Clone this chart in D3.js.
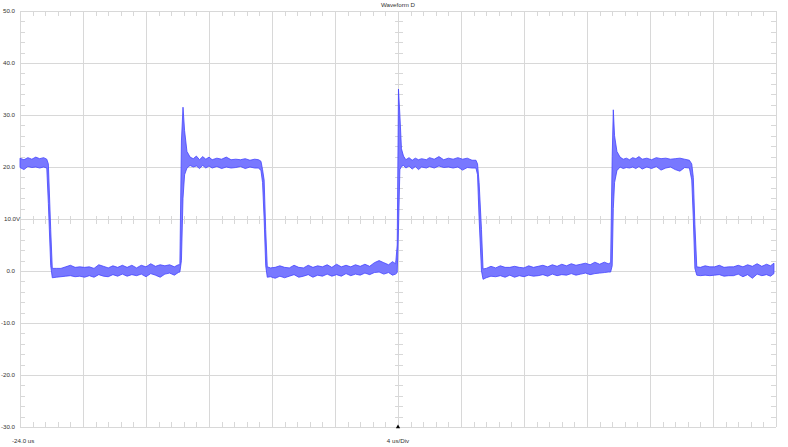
<!DOCTYPE html>
<html>
<head>
<meta charset="utf-8">
<script src="https://cdn.jsdelivr.net/npm/d3@7"></script>
<style>
  body { margin: 0; background: #fff; }
  text { font-family: "Liberation Sans", Arial, sans-serif; fill: #333; }
</style>
</head>
<body>
<div id="chart"></div>
<script>
// ---- data (time in us, envelope max / min in V) ----
const title = "Waveform D";
const yTicks = [-30, -20, -10, 0, 10, 20, 30, 40, 50];
const yTickLabels = ["-30.0", "-20.0", "-10.0", "0.0", "10.0V", "20.0", "30.0", "40.0", "50.0"];
const xTicks = [-24, -20, -16, -12, -8, -4, 0, 4, 8, 12, 16, 20, 24];
const startLabel = "-24.0 us";
const divLabel = "4 us/Div";

// [time, upper, lower]
const envelope = [
  [-24.0, 21.7, 19.9], [-23.75, 21.4, 19.5], [-23.5, 21.8, 20.1], [-23.25, 21.5, 19.9],
  [-23.0, 21.9, 20.0], [-22.75, 21.6, 19.8], [-22.5, 21.8, 20.0], [-22.3, 21.5, 19.8],
  [-22.2, 20.6, 13.0], [-22.05, 8.0, 1.0], [-21.95, 0.5, -1.3],
  [-21.7, 0.5, -1.2], [-21.4, 0.5, -1.1], [-21.1, 0.8, -1.0], [-20.8, 1.1, -0.9],
  [-20.5, 0.7, -1.1], [-20.2, 0.8, -1.0], [-19.9, 0.7, -1.2], [-19.6, 0.8, -0.9],
  [-19.3, 0.5, -1.2], [-19.0, 1.2, -0.7], [-18.7, 0.9, -1.0], [-18.4, 0.6, -1.1],
  [-18.1, 1.0, -0.7], [-17.8, 0.7, -1.0], [-17.5, 1.1, -0.6], [-17.2, 0.7, -1.0],
  [-16.9, 1.1, -0.7], [-16.6, 0.6, -0.9], [-16.3, 1.1, -0.6], [-16.0, 0.8, -1.1],
  [-15.7, 1.4, -0.5], [-15.4, 0.9, -0.8], [-15.1, 1.2, -1.2], [-14.8, 1.0, -0.6],
  [-14.5, 1.2, -0.4], [-14.2, 0.8, -0.8], [-13.95, 1.2, -0.3], [-13.85, 1.2, -0.2],
  [-13.75, 25.0, 2.0], [-13.65, 31.5, 14.0], [-13.55, 27.0, 18.5], [-13.4, 23.0, 19.8],
  [-13.2, 21.9, 20.3],
  [-13.0, 21.6, 20.0], [-12.8, 22.1, 20.2], [-12.6, 21.4, 19.7], [-12.4, 22.0, 20.3],
  [-12.2, 21.5, 19.8], [-12.0, 21.9, 20.2], [-11.8, 21.4, 19.8], [-11.5, 21.7, 20.1],
  [-11.2, 21.5, 19.7], [-10.9, 21.9, 20.0], [-10.6, 21.4, 19.8], [-10.3, 21.5, 19.9],
  [-10.0, 21.4, 20.1], [-9.7, 21.6, 19.7], [-9.4, 21.3, 20.0], [-9.1, 21.5, 19.8],
  [-8.85, 21.4, 19.8], [-8.7, 21.1, 19.3],
  [-8.6, 19.5, 17.0], [-8.5, 17.5, 10.0], [-8.4, 8.0, 1.0], [-8.3, 0.8, -1.2],
  [-8.1, 0.6, -1.1], [-7.8, 0.7, -1.4], [-7.5, 1.0, -1.0], [-7.2, 0.7, -1.3],
  [-6.9, 0.6, -1.0], [-6.6, 1.1, -0.7], [-6.3, 0.7, -1.2], [-6.0, 0.6, -1.0],
  [-5.7, 1.1, -0.7], [-5.4, 0.7, -1.2], [-5.1, 1.0, -0.8], [-4.8, 0.8, -1.0],
  [-4.5, 1.2, -0.6], [-4.2, 0.7, -1.0], [-3.9, 1.3, -0.7], [-3.6, 0.8, -1.0],
  [-3.3, 1.1, -0.5], [-3.0, 0.8, -0.9], [-2.7, 1.2, -0.6], [-2.4, 0.9, -0.8],
  [-2.1, 1.3, -0.4], [-1.8, 0.9, -0.7], [-1.5, 1.6, -0.3], [-1.2, 2.0, -0.2],
  [-0.9, 1.6, -0.6], [-0.6, 1.2, -0.3], [-0.35, 1.8, -0.8], [-0.15, 1.4, -0.6],
  [-0.05, 5.0, -0.3], [0.03, 35.0, 8.0], [0.12, 30.0, 19.5], [0.22, 23.5, 20.1],
  [0.35, 22.1, 20.3],
  [0.5, 21.4, 19.8], [0.7, 21.8, 20.2], [0.9, 21.3, 19.6], [1.1, 21.7, 20.1],
  [1.3, 21.4, 19.5], [1.5, 21.6, 20.0], [1.8, 21.4, 19.8], [2.0, 21.8, 20.1],
  [2.3, 21.5, 19.8], [2.6, 22.0, 20.2], [2.9, 21.4, 19.9], [3.2, 21.7, 20.0],
  [3.5, 21.5, 19.8], [3.8, 21.8, 20.0], [4.1, 21.5, 19.4], [4.4, 21.7, 19.9],
  [4.7, 21.3, 19.8], [4.95, 21.3, 19.8],
  [5.05, 20.6, 18.5], [5.15, 17.0, 10.0], [5.3, 8.0, 0.0], [5.4, 0.4, -1.6],
  [5.6, 0.5, -1.3], [5.9, 0.9, -1.0], [6.2, 0.6, -1.1], [6.5, 1.0, -0.9],
  [6.8, 0.7, -1.2], [7.1, 0.7, -0.8], [7.4, 0.9, -1.2], [7.7, 0.7, -0.9],
  [8.0, 0.6, -1.1], [8.3, 1.0, -0.8], [8.6, 0.7, -1.0], [8.9, 0.9, -0.9],
  [9.2, 1.1, -0.7], [9.5, 0.8, -1.0], [9.8, 1.2, -0.6], [10.1, 0.9, -0.9],
  [10.4, 1.3, -0.7], [10.7, 1.0, -0.8], [11.0, 1.4, -0.5], [11.3, 1.1, -0.8],
  [11.6, 1.3, -0.6], [11.9, 1.5, -0.4], [12.2, 1.2, -0.7], [12.5, 1.7, -0.5],
  [12.8, 1.3, -0.4], [13.1, 1.7, -0.3], [13.35, 1.4, -0.2], [13.5, 1.6, -0.2],
  [13.6, 22.0, 1.0], [13.67, 31.0, 12.0], [13.75, 26.0, 17.0], [13.9, 23.0, 19.3],
  [14.1, 21.9, 20.0],
  [14.3, 21.5, 19.7], [14.5, 21.7, 19.9], [14.7, 21.4, 19.8], [14.9, 21.8, 20.0],
  [15.1, 21.6, 19.7], [15.3, 22.0, 20.1], [15.5, 21.5, 19.6], [15.8, 21.7, 20.0],
  [16.1, 21.4, 19.7], [16.4, 21.8, 20.1], [16.7, 21.6, 19.4], [17.0, 21.7, 19.8],
  [17.3, 21.5, 20.0], [17.6, 21.6, 19.5], [17.9, 21.7, 19.2], [18.2, 21.5, 19.9],
  [18.5, 21.3, 19.8],
  [18.65, 20.6, 17.5], [18.75, 18.0, 10.0], [18.85, 9.0, 0.5], [18.97, 0.8, -0.8],
  [19.2, 0.7, -0.9], [19.5, 1.0, -0.8], [19.8, 0.8, -0.9], [20.1, 0.8, -0.8],
  [20.4, 1.1, -0.7], [20.7, 0.7, -1.0], [21.0, 0.8, -0.9], [21.3, 0.8, -0.9],
  [21.6, 1.1, -0.6], [21.9, 0.8, -1.1], [22.2, 1.2, -0.7], [22.5, 0.9, -1.4],
  [22.8, 1.4, -0.6], [23.1, 0.9, -0.9], [23.4, 1.3, -0.7], [23.65, 1.0, -1.0],
  [23.87, 1.5, -0.5]
];

(function() {
  // ---- layout ----
  const W = 788, H = 447;
  const pLeft = 20, pRight = 776, pTop = 11, pBottom = 427;

  const svg = d3.select("#chart").append("svg")
    .attr("width", W).attr("height", H);

  const x = d3.scaleLinear().domain([-24, 24]).range([pLeft, pRight]);
  const y = d3.scaleLinear().domain([-30, 50]).range([pBottom, pTop]);

  const grid = svg.append("g")
    .attr("stroke", "#d8d8d8")
    .attr("stroke-width", 1)
    .attr("shape-rendering", "crispEdges");

  const px = d => Math.round(x(d)) + 0.5, py = d => Math.round(y(d)) + 0.5;

  // major grid
  grid.selectAll(".vg").data(xTicks).enter().append("line")
    .attr("x1", px).attr("x2", px)
    .attr("y1", pTop).attr("y2", pBottom);
  grid.selectAll(".hg").data(yTicks).enter().append("line")
    .attr("y1", py).attr("y2", py)
    .attr("x1", pLeft).attr("x2", pRight);

  // minor ticks, 5 per division
  const xMinor = d3.range(-24, 24.001, 0.8).filter(v => Math.abs(v / 4 - Math.round(v / 4)) > 0.01);
  const yMinor = d3.range(-30, 50.001, 2).filter(v => v % 10 !== 0);
  const xc = 0, yc = 10;

  function tickLines(data, fn) {
    grid.selectAll(null).data(data).enter().append("line").each(function(d) {
      const c = fn(d);
      d3.select(this).attr("x1", c[0]).attr("y1", c[1]).attr("x2", c[2]).attr("y2", c[3]);
    });
  }
  tickLines(xMinor, d => [px(d), pTop, px(d), pTop + 5]);
  tickLines(xMinor, d => [px(d), pBottom, px(d), pBottom - 5]);
  tickLines(xMinor, d => [px(d), py(yc) - 4, px(d), py(yc) + 4]);
  tickLines(yMinor, d => [pLeft, py(d), pLeft + 5, py(d)]);
  tickLines(yMinor, d => [pRight, py(d), pRight - 5, py(d)]);
  tickLines(yMinor, d => [px(xc) - 4, py(d), px(xc) + 4, py(d)]);

  // trace envelope
  const area = d3.area()
    .x(d => x(d[0]))
    .y0(d => y(d[2]))
    .y1(d => y(d[1]));

  svg.append("path")
    .datum(envelope)
    .attr("d", area)
    .attr("fill", "#7878ff")
    .attr("stroke", "#4444ff")
    .attr("stroke-width", 0.8)
    .attr("stroke-linejoin", "round");

  // labels
  svg.selectAll(".ylab").data(yTicks).enter().append("text")
    .attr("x", (d, i) => yTickLabels[i].endsWith("V") ? 4 : 15)
    .attr("y", d => y(d) + 2.2)
    .attr("text-anchor", (d, i) => yTickLabels[i].endsWith("V") ? "start" : "end")
    .attr("font-size", 6.2)
    .text((d, i) => yTickLabels[i]);

  svg.append("text").attr("x", x(0)).attr("y", 7)
    .attr("text-anchor", "middle").attr("font-size", 6.2).text(title);

  svg.append("text").attr("x", 12).attr("y", 443)
    .attr("font-size", 6.2).text(startLabel);
  svg.append("text").attr("x", x(0)).attr("y", 443)
    .attr("text-anchor", "middle").attr("font-size", 6.2).text(divLabel);

  // trigger marker
  svg.append("path")
    .attr("d", d3.symbol().type(d3.symbolTriangle).size(8))
    .attr("transform", `translate(${x(0)},${pBottom})`)
    .attr("fill", "#000");
})();
</script>
</body>
</html>
